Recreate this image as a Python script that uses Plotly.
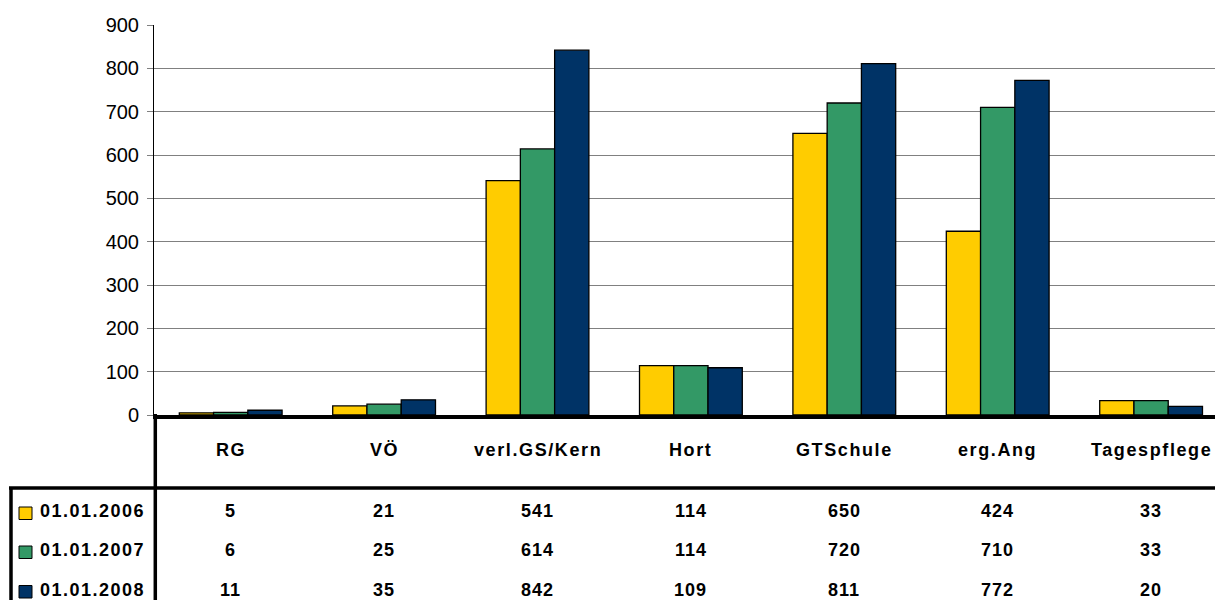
import plotly.graph_objects as go

# ---------------- data ----------------
categories = ["RG", "VÖ", "verl.GS/Kern", "Hort", "GTSchule", "erg.Ang", "Tagespflege"]
series_names = ["01.01.2006", "01.01.2007", "01.01.2008"]
values_2006 = [5, 21, 541, 114, 650, 424, 33]
values_2007 = [6, 25, 614, 114, 720, 710, 33]
values_2008 = [11, 35, 842, 109, 811, 772, 20]
series_colors = ["#FFCC00", "#339966", "#003366"]
y_ticks = [0, 100, 200, 300, 400, 500, 600, 700, 800, 900]

series_values = [values_2006, values_2007, values_2008]

# ---------------- layout geometry (screen pixels) ----------------
W, H = 1215, 600
PL, PR, PT, PB = 154, 1215, 25, 415    # plot area edges on screen
CAT_W = 153.4                          # pixel width of one category


def px_x(px):
    return (px - PL) / (PR - PL)


def px_y(py):
    return (PB - py) / (PB - PT)


FONT = "Liberation Sans, Arial, sans-serif"

fig = go.Figure()
for name, vals, col in zip(series_names, series_values, series_colors):
    fig.add_trace(go.Bar(
        x=categories, y=vals, name=name,
        marker=dict(color=col, line=dict(color="#000000", width=1.3)),
        showlegend=False, hoverinfo="skip",
    ))

x_max = -0.5 + (PR - PL) / CAT_W

shapes = []
line_style = dict(color="#000000", width=3.5)
shapes.append(dict(type="line", xref="paper", yref="paper",
                   x0=px_x(155.3), x1=px_x(155.3), y0=px_y(414), y1=px_y(600),
                   line=line_style))
shapes.append(dict(type="line", xref="paper", yref="paper",
                   x0=px_x(9), x1=px_x(1215), y0=px_y(488), y1=px_y(488),
                   line=line_style))
shapes.append(dict(type="line", xref="paper", yref="paper",
                   x0=px_x(11), x1=px_x(11), y0=px_y(488), y1=px_y(600),
                   line=line_style))

annotations = []
for c in categories:
    annotations.append(dict(
        x=c, xref="x", y=px_y(450), yref="paper",
        text='<span style="letter-spacing:1.6px"><b>%s</b></span>' % c,
        showarrow=False, xanchor="center", yanchor="middle",
        font=dict(family=FONT, size=18, color="#000000"),
    ))

row_y = [511, 550, 589.5]
for name, vals, col, ry in zip(series_names, series_values, series_colors, row_y):
    shapes.append(dict(type="rect", xref="paper", yref="paper",
                       x0=px_x(19), x1=px_x(32), y0=px_y(ry + 8.5), y1=px_y(ry - 4),
                       fillcolor=col, line=dict(color="#000000", width=1)))
    annotations.append(dict(
        x=px_x(38), xref="paper", y=px_y(ry), yref="paper",
        text='<span style="letter-spacing:1.5px"><b>%s</b></span>' % name,
        showarrow=False, xanchor="left", yanchor="middle",
        font=dict(family=FONT, size=18, color="#000000"),
    ))
    for c, v in zip(categories, vals):
        annotations.append(dict(
            x=c, xref="x", y=px_y(ry), yref="paper",
            text='<span style="letter-spacing:1px"><b>%d</b></span>' % v,
            showarrow=False, xanchor="center", yanchor="middle",
            font=dict(family=FONT, size=18, color="#000000"),
        ))

fig.update_layout(
    width=W, height=H,
    margin=dict(l=PL, r=W - PR, t=PT, b=H - PB, pad=0),
    paper_bgcolor="#FFFFFF", plot_bgcolor="#FFFFFF",
    barmode="group", bargap=0.33, bargroupgap=0,
    font=dict(family=FONT, size=20, color="#000000"),
    xaxis=dict(range=[-0.5, x_max], showticklabels=False, ticks="",
               showgrid=False, zeroline=False, showline=True,
               linecolor="#000000", linewidth=3.5, fixedrange=True),
    yaxis=dict(range=[0, 900], tickvals=y_ticks, ticks="outside", ticklen=6,
               tickcolor="#808080", tickwidth=1.3, showline=True,
               linecolor="#000000", linewidth=1, showgrid=True,
               gridcolor="#808080", gridwidth=1.3, zeroline=False,
               ticklabelstandoff=4,
               tickfont=dict(family=FONT, size=20, color="#000000"),
               fixedrange=True),
    shapes=shapes, annotations=annotations,
    hovermode=False,
)

fig.write_html(
    "out.html",
    config={"displayModeBar": False},
    post_script="document.body.style.margin='0px';document.body.style.overflow='hidden';",
)
